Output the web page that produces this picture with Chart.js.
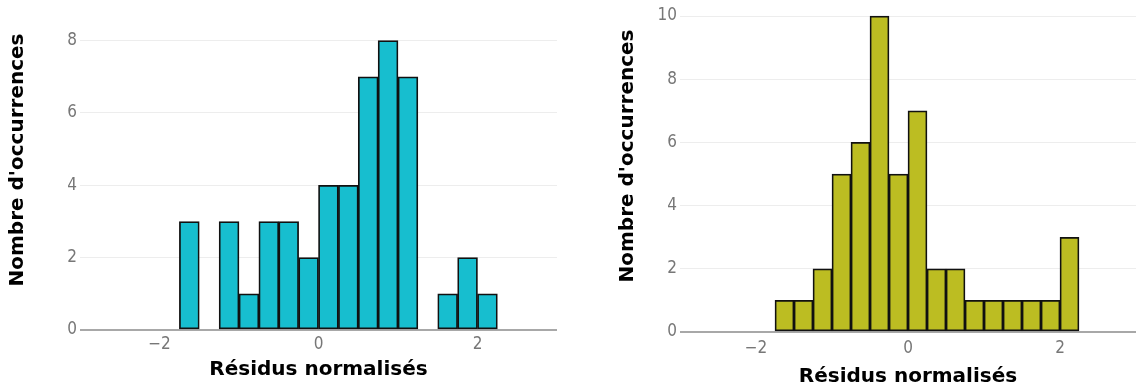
<!DOCTYPE html>
<html lang="fr">
  <head>
    <meta charset="UTF-8" />
    <title>Histogrammes des résidus normalisés</title>
    <script src="https://cdn.jsdelivr.net/npm/chart.js@4.4.0/dist/chart.umd.min.js"></script>
    <style>
      html,
      body {
        margin: 0;
        padding: 0;
        background: #fff;
        overflow: hidden;
      }
      body {
        width: 1136px;
        height: 387px;
        position: relative;
      }
      .panel {
        position: absolute;
      }
      /* the plot areas go a bit above the visible window, as in the original figure */
      #panel-left {
        left: 0;
        top: -10px;
        width: 566px;
        height: 402px;
      }
      #panel-right {
        left: 566px;
        top: -20px;
        width: 570px;
        height: 412px;
      }
    </style>
  </head>
  <body>
    <div class="panel" id="panel-left"><canvas id="chart-left"></canvas></div>
    <div class="panel" id="panel-right"><canvas id="chart-right"></canvas></div>

    <script>
      // centres des classes (largeur 0.25)
      const binCenters = [
        -1.625, -1.375, -1.125, -0.875, -0.625, -0.375, -0.125, 0.125,
        0.375, 0.625, 0.875, 1.125, 1.375, 1.625, 1.875, 2.125,
      ];
      const countsLeft = [3, 0, 3, 1, 3, 3, 2, 4, 4, 7, 8, 7, 0, 1, 2, 1];
      const countsRight = [1, 1, 2, 5, 6, 10, 5, 7, 2, 2, 1, 1, 1, 1, 1, 3];

      const xTicks = [-2, 0, 2];
      const yTicksLeft = [0, 2, 4, 6, 8];
      const yTicksRight = [0, 2, 4, 6, 8, 10];

      const xTitle = "Résidus normalisés";
      const yTitle = "Nombre d'occurrences";

      const tickFont = {
        family: "'Liberation Sans Narrow', 'DejaVu Sans Condensed', sans-serif",
        size: 17,
      };
      const titleFont = {
        family: "'DejaVu Sans', sans-serif",
        size: 20,
        weight: "bold",
      };

      function makeHistogram(canvasId, counts, color, cfg) {
        // pas de barre pour les classes vides
        const points = [];
        binCenters.forEach((c, i) => {
          if (counts[i] > 0) points.push({ x: c, y: counts[i] });
        });

        return new Chart(document.getElementById(canvasId), {
          type: "bar",
          data: {
            datasets: [
              {
                data: points,
                backgroundColor: color,
                borderColor: "#111",
                borderWidth: 1.75,
                borderSkipped: false,
                barPercentage: 1,
                categoryPercentage: 1,
              },
            ],
          },
          options: {
            responsive: true,
            maintainAspectRatio: false,
            animation: false,
            layout: {
              padding: { left: cfg.padLeft, right: cfg.padRight, top: 0, bottom: 0 },
            },
            plugins: {
              legend: { display: false },
              tooltip: { enabled: false },
            },
            scales: {
              x: {
                type: "linear",
                min: -3,
                max: 3,
                offset: false,
                grid: { display: false, drawTicks: false },
                border: { display: false },
                ticks: {
                  color: "#777",
                  font: tickFont,
                  padding: cfg.xTickPad,
                  callback: (v) => String(v).replace("-", "\u2212"),
                },
                title: {
                  display: true,
                  text: xTitle,
                  color: "#000",
                  font: titleFont,
                  padding: { top: 0, bottom: cfg.xTitlePad },
                },
                afterBuildTicks: (s) => {
                  s.ticks = xTicks.map((v) => ({ value: v }));
                },
                afterFit: (s) => {
                  s.height = cfg.xHeight;
                  s.paddingLeft = 0;
                  s.paddingRight = 0;
                },
              },
              y: {
                min: 0,
                max: cfg.yMax,
                grid: {
                  drawTicks: false,
                  color: (ctx) => (ctx.tick && ctx.tick.value === 0 ? "#a8a8a8" : "#ededed"),
                  lineWidth: (ctx) => (ctx.tick && ctx.tick.value === 0 ? 2 : 1),
                },
                border: { display: false },
                ticks: {
                  color: "#777",
                  font: tickFont,
                  padding: 3,
                },
                title: {
                  display: true,
                  text: yTitle,
                  color: "#000",
                  font: titleFont,
                  padding: { top: 6, bottom: 0 },
                },
                afterBuildTicks: (s) => {
                  s.ticks = cfg.yTicks.map((v) => ({ value: v }));
                },
                afterFit: (s) => {
                  s.width = cfg.yWidth;
                  s.paddingTop = 0;
                  s.paddingBottom = 0;
                },
              },
            },
          },
        });
      }

      makeHistogram("chart-left", countsLeft, "#17becf", {
        yMax: 9.4,
        yTicks: yTicksLeft,
        padLeft: 0,
        padRight: 9,
        yWidth: 80,
        xHeight: 62,
        xTickPad: 4,
        xTitlePad: 10,
      });

      makeHistogram("chart-right", countsRight, "#bcbd22", {
        yMax: 11.14,
        yTicks: yTicksRight,
        padLeft: 44,
        padRight: 0,
        yWidth: 70,
        xHeight: 60,
        xTickPad: 6,
        xTitlePad: 3,
      });
    </script>
  </body>
</html>
